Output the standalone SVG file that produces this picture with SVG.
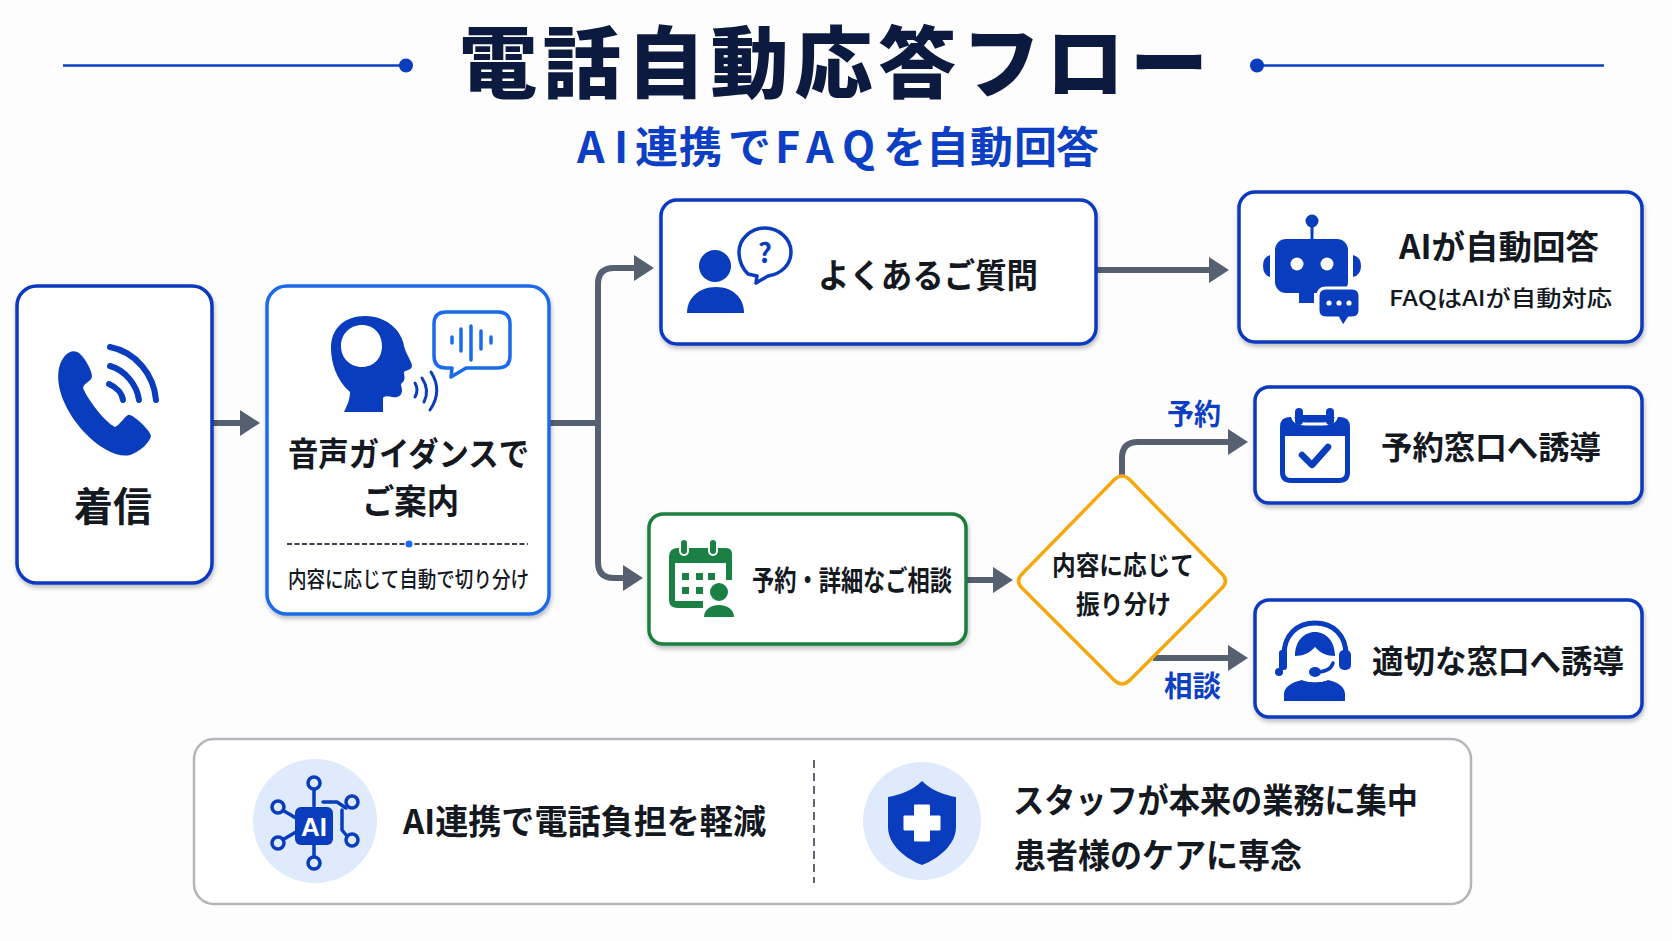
<svg xmlns="http://www.w3.org/2000/svg" width="1672" height="941" viewBox="0 0 1672 941">
<style>
text{font-family:"Noto Sans CJK JP","Noto Sans",sans-serif;fill:#14181f;font-weight:700}
.title{fill:#0b1a3e;font-size:78px;font-weight:900}
.sub{fill:#0d3fc4;font-size:43px}
.lab{fill:#0d3fc4;font-size:29px}
.reg{font-weight:500}
.box{fill:#fff;stroke:#0a39c0;stroke-width:3.5;filter:url(#sh)}
.lt{stroke:#1a6bea}
.gr{stroke:#1a7f3c}
.ic{fill:#0a3dbd}
.is{fill:none;stroke:#0a3dbd;stroke-linecap:round;stroke-linejoin:round}
.gc{fill:#1a8043}
.con{fill:none;stroke:#566071;stroke-width:6;stroke-linejoin:round}
.ar{marker-end:url(#ah)}
</style>
<defs>
<filter id="sh" x="-5%" y="-5%" width="110%" height="112%"><feDropShadow dx="1" dy="3" stdDeviation="2" flood-color="#000" flood-opacity=".25"/></filter>
<marker id="ah" markerUnits="userSpaceOnUse" markerWidth="21" markerHeight="28" refX="0" refY="14" orient="auto"><path d="M0,1 L20,14 L0,27Z" fill="#566071"/></marker>
</defs>
<rect width="1672" height="941" fill="#fdfdfe"/>
<g id="header">
<path d="M63,65.5H400M1257,65.5H1604" stroke="#0d3fc4" stroke-width="2.5" fill="none"/>
<circle cx="406" cy="65.5" r="7" fill="#0a3dbd"/><circle cx="1257" cy="65.5" r="7" fill="#0a3dbd"/>
<text class="title" x="459" y="92" textLength="749" lengthAdjust="spacing">電話自動応答フロー</text>
<text class="sub" x="577 614 635 679 728 775 806 842 883 926 970 1014 1056" y="163">AI連携でFAQを自動回答</text>
</g>
<g id="connectors">
<path class="con ar" d="M212,423H240"/>
<path class="con" d="M549,423H598"/>
<path class="con ar" d="M598,423V284Q598,268 614,268H634"/>
<path class="con ar" d="M598,423V562Q598,578 614,578H623"/>
<path class="con ar" d="M1096,270H1209"/>
<path class="con ar" d="M966,580H993"/>
<path class="con ar" d="M1122,478V458Q1122,442 1138,442H1228"/>
<path class="con ar" d="M1153,658H1228"/>
</g>
<g id="edge-labels">
<text class="lab" x="1167" y="425" textLength="54" lengthAdjust="spacingAndGlyphs">予約</text>
<text class="lab" x="1164" y="697" textLength="57" lengthAdjust="spacingAndGlyphs">相談</text>
</g>
<g id="node-incoming">
<rect class="box" x="17" y="286" width="195" height="297" rx="20"/>
<path class="ic" d="M77,352C70,349 62,356 59,368C55,388 66,412 84,432C100,449 118,458 130,455C140,452 150,442 151,436C151,431 132,413 128,415C124,417 120,425 115,427C105,422 88,400 83,388C84,382 92,382 92,376C92,370 83,354 77,352Z"/>
<path class="is" stroke-width="6" d="M110,347C136,352 154,375 156,400M110,366C125,370 137,385 139,400M109,384C116,387 122,393 123,400"/>
<text x="74" y="521" font-size="40" textLength="78" lengthAdjust="spacingAndGlyphs">着信</text>
</g>
<g id="node-guidance">
<rect class="box lt" x="267" y="286" width="282" height="328" rx="20"/>
<path class="ic" fill-rule="evenodd" d="M344,412C348,404 350,398 350,392C336,380 331,362 331,348C331,328 345,316 365,316C388,316 402,332 404,346C406,354 412,362 412,366C412,370 406,370 404,372C404,376 406,380 402,383C400,384 402,387 402,390C402,396 398,398 392,397C388,396 384,396 383,398V412ZM362,325C350,325 341,334 341,346C341,358 350,367 362,367C374,367 382,358 382,346C382,334 374,325 362,325Z"/>
<path class="is" stroke-width="3" d="M415,383Q419,390 415,397M422,378Q430,390 424,402M431,372Q443,391 430,410"/>
<path fill="#fff" stroke="#1a6bea" stroke-width="3.5" stroke-linejoin="round" d="M446,312H498Q510,312 510,324V356Q510,368 498,368H466L451,377L452,368H446Q434,368 434,356V324Q434,312 446,312Z"/>
<path d="M452,337V343M461,329V351M471,326V360M481,331V349M491,337V343" stroke="#1a6bea" stroke-width="3.5" stroke-linecap="round"/>
<text x="288" y="466" font-size="33" textLength="241" lengthAdjust="spacingAndGlyphs">音声ガイダンスで</text>
<text x="362" y="514" font-size="34" textLength="97" lengthAdjust="spacingAndGlyphs">ご案内</text>
<path d="M287,544H528" stroke="#39414f" stroke-width="2" stroke-dasharray="5 2.5"/>
<circle cx="409" cy="544" r="3.5" fill="#1a6bea"/>
<text class="reg" x="288" y="587" font-size="22" textLength="241" lengthAdjust="spacingAndGlyphs">内容に応じて自動で切り分け</text>
</g>
<g id="node-faq">
<rect class="box" x="661" y="200" width="435" height="144" rx="16"/>
<circle class="ic" cx="715" cy="266" r="16"/>
<path class="ic" d="M687,313C687,298 699,287 716,287C733,287 744,298 744,313Z"/>
<path fill="#fff" stroke="#0a3dbd" stroke-width="3.5" stroke-linejoin="round" d="M765,228C779,228 791,239 791,252C791,265 781,274 768,276L756,283L757,276L748,274C742,268 739,260 739,252C739,239 751,228 765,228Z"/>
<text x="765" y="263" font-size="27" text-anchor="middle" style="fill:#0a3dbd">?</text>
<text x="818" y="288" font-size="34" textLength="220" lengthAdjust="spacingAndGlyphs">よくあるご質問</text>
</g>
<g id="node-ai-answer">
<rect class="box" x="1239" y="192" width="403" height="150" rx="16"/>
<path d="M1312,225V242" stroke="#0a3dbd" stroke-width="3"/><circle class="ic" cx="1312" cy="221" r="6.5"/>
<rect class="ic" x="1275" y="239" width="73" height="54" rx="11"/>
<rect class="ic" x="1299" y="290" width="15" height="13"/>
<path class="ic" d="M1270,255V277Q1263,275 1263,266Q1263,257 1270,255ZM1353,255V277Q1361,275 1361,266Q1361,257 1353,255Z"/>
<circle cx="1297" cy="264" r="6.5" fill="#fff"/><circle cx="1327" cy="264" r="6.5" fill="#fff"/>
<path class="ic" stroke="#fff" stroke-width="3" d="M1326,288H1352Q1360,288 1360,296V310Q1360,318 1352,318H1349L1343,327L1338,318H1326Q1318,318 1318,310V296Q1318,288 1326,288Z"/>
<circle cx="1329" cy="303" r="2.6" fill="#fff"/><circle cx="1339" cy="303" r="2.6" fill="#fff"/><circle cx="1349" cy="303" r="2.6" fill="#fff"/>
<text x="1399" y="259" font-size="33" textLength="200" lengthAdjust="spacingAndGlyphs">AIが自動回答</text>
<text class="reg" x="1389" y="306" font-size="22" textLength="223" lengthAdjust="spacingAndGlyphs">FAQはAIが自動対応</text>
</g>
<g id="node-consult">
<rect class="box gr" x="649" y="514" width="317" height="130" rx="14"/>
<path class="gc" fill-rule="evenodd" d="M678,548H726Q732,548 732,554V580H726V563H675V601H703V608H678Q669,608 669,600V557Q669,548 678,548Z"/>
<rect x="679" y="538" width="10" height="18" rx="5" fill="#fff"/><rect x="708" y="538" width="10" height="18" rx="5" fill="#fff"/>
<rect class="gc" x="681" y="540" width="6" height="14" rx="3"/><rect class="gc" x="710" y="540" width="6" height="14" rx="3"/>
<g class="gc"><rect x="682" y="573" width="7" height="7"/><rect x="696" y="573" width="7" height="7"/><rect x="708" y="573" width="7" height="7"/><rect x="682" y="587" width="7" height="7"/><rect x="696" y="587" width="7" height="7"/></g>
<circle class="gc" cx="719" cy="592" r="10" stroke="#fff" stroke-width="2"/>
<path class="gc" d="M704,617C704,610 710,605 719,605C728,605 734,610 734,617Z"/>
<text x="752" y="591" font-size="28" textLength="200" lengthAdjust="spacingAndGlyphs">予約・詳細なご相談</text>
</g>
<g id="node-decision">
<path fill="#fff" stroke="#f6a90f" stroke-width="3.5" d="M1114,480Q1122,472 1130,480L1222,574Q1229,581 1222,588L1130,680Q1122,688 1114,680L1022,588Q1015,581 1022,574Z"/>
<text x="1052" y="575" font-size="26" textLength="142" lengthAdjust="spacingAndGlyphs">内容に応じて</text>
<text x="1076" y="614" font-size="26" textLength="95" lengthAdjust="spacingAndGlyphs">振り分け</text>
</g>
<g id="node-reservation">
<rect class="box" x="1255" y="387" width="387" height="116" rx="14"/>
<path class="ic" fill-rule="evenodd" d="M1290,417H1340Q1350,417 1350,427V472Q1350,483 1339,483H1291Q1280,483 1280,472V427Q1280,417 1290,417ZM1285,436V472Q1285,478 1291,478H1339Q1345,478 1345,472V436Z"/>
<path d="M1292,413Q1292,424 1306,424H1323Q1337,424 1337,413" fill="none" stroke="#fff" stroke-width="3"/>
<rect class="ic" x="1295" y="408" width="8" height="17" rx="4"/><rect class="ic" x="1326" y="408" width="8" height="17" rx="4"/>
<rect class="ic" x="1299" y="415" width="32" height="4"/>
<path class="is" stroke-width="6.5" d="M1302,455L1312,465L1328,447"/>
<text x="1381" y="459" font-size="32" textLength="220" lengthAdjust="spacingAndGlyphs">予約窓口へ誘導</text>
</g>
<g id="node-referral">
<rect class="box" x="1255" y="600" width="387" height="117" rx="14"/>
<path class="is" stroke-width="5" d="M1284,655C1284,635 1297,623 1315,623C1333,623 1346,635 1346,655"/>
<rect class="ic" x="1279" y="650" width="8" height="20" rx="3"/><rect class="ic" x="1339" y="650" width="12" height="20" rx="5"/>
<path class="is" stroke-width="3" d="M1283,668L1279,672"/><circle class="ic" cx="1279" cy="672" r="4"/>
<path class="ic" d="M1295,656C1295,641 1304,632 1315,632C1326,632 1335,641 1335,656C1327,656 1320,653 1315,647C1310,653 1303,656 1295,656Z"/>
<path class="is" stroke-width="3.5" d="M1333,663C1331,670 1325,672 1316,672"/><ellipse class="ic" cx="1315" cy="672" rx="6" ry="5"/>
<path class="ic" d="M1284,701V694C1284,687 1292,682 1302,680C1307,683 1323,683 1328,680C1338,682 1345,687 1345,694V701Z"/>
<text x="1372" y="673" font-size="32" textLength="252" lengthAdjust="spacingAndGlyphs">適切な窓口へ誘導</text>
</g>
<g id="panel-benefits">
<rect x="194" y="739" width="1277" height="165" rx="20" fill="#fff" stroke="#b3b6bb" stroke-width="2.5"/>
<path d="M814,760V883" stroke="#5e6675" stroke-width="2" stroke-dasharray="8 5"/>
<circle cx="315" cy="821" r="62" fill="#dfeafc"/>
<g class="is" stroke-width="3.5"><path d="M314,789V806M314,845V857M284,811L296,818M284,839L296,832M323,802H337L346,808M342,810V830L347,836"/><circle cx="314" cy="783" r="6" fill="#dfeafc"/><circle cx="314" cy="863" r="6" fill="#dfeafc"/><circle cx="278" cy="807" r="6" fill="#dfeafc"/><circle cx="278" cy="843" r="6" fill="#dfeafc"/><circle cx="352" cy="802" r="6" fill="#dfeafc"/><circle cx="352" cy="840" r="6" fill="#dfeafc"/></g>
<rect class="ic" x="295" y="807" width="38" height="38" rx="6"/>
<text x="314" y="836" font-size="26" text-anchor="middle" style="fill:#fff;font-family:'Liberation Sans',sans-serif">AI</text>
<text x="403" y="834" font-size="34" textLength="363" lengthAdjust="spacingAndGlyphs">AI連携で電話負担を軽減</text>
<circle cx="922" cy="821" r="59" fill="#dfeafc"/>
<path class="ic" d="M922,781C932,791 945,795 956,797V827C956,845 938,859 922,865C906,859 888,845 888,827V797C899,795 912,791 922,781Z"/>
<path d="M914.5,805H929.5V816H940V830H929.5V841H914.5V830H904V816H914.5Z" fill="#fff" stroke="#fff" stroke-linejoin="round"/>
<text x="1013" y="813" font-size="34" textLength="405" lengthAdjust="spacingAndGlyphs">スタッフが本来の業務に集中</text>
<text x="1014" y="868" font-size="34" textLength="288" lengthAdjust="spacingAndGlyphs">患者様のケアに専念</text>
</g>
</svg>
